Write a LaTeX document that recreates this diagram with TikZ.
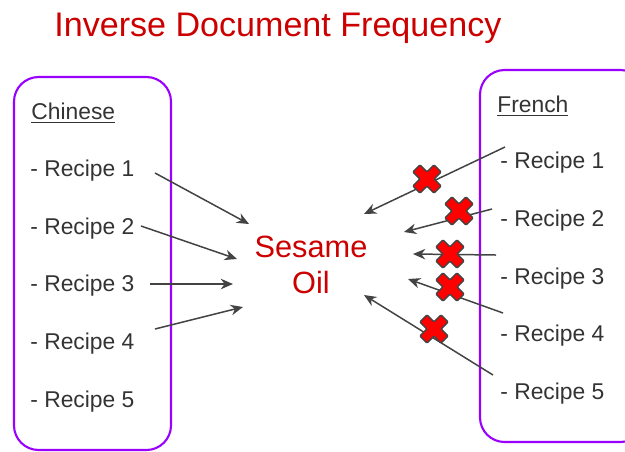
\documentclass[tikz,border=0pt]{standalone}
\usepackage{fontspec}
\setmainfont{Liberation Sans}
\usetikzlibrary{arrows.meta}

\definecolor{slidered}{HTML}{CC0000}
\definecolor{boxpurple}{HTML}{9900FF}
\definecolor{arrowgray}{HTML}{434343}

\tikzset{
  recipe/.style={anchor=west, inner sep=0pt, text=black!80, font=\fontsize{13}{15}\selectfont},
  link/.style={arrowgray, line width=0.85pt, -{Stealth[length=7pt,width=6pt]}},
  catbox/.style={draw=boxpurple, line width=1.2pt, rounded corners=14pt},
  nope/.pic={
    \filldraw[fill=red, draw=arrowgray, line width=0.8pt, rounded corners=0.6pt, rotate=45]
      (5,15) -- (5,5) -- (15,5) -- (15,-5) -- (5,-5) -- (5,-15) -- (-5,-15)
      -- (-5,-5) -- (-15,-5) -- (-15,5) -- (-5,5) -- (-5,15) -- cycle;
  }
}

\begin{document}
\begin{tikzpicture}[x=0.02cm, y=-0.02cm]
        \useasboundingbox (0,0) rectangle (625,451);

        % title
        \node[anchor=west, inner sep=0pt, text=slidered, font=\fontsize{19.4}{22}\selectfont] (title) at (54,28) {Inverse Document Frequency};

        % the two groups
        \draw[catbox] (14,77) rectangle (171,450);
        \draw[catbox] (480,70) rectangle (645,442);

        \node[recipe] (chinese) at (31,113) {\underline{Chinese}};
        \node[recipe] (c1) at (30,171) {- Recipe 1};
        \node[recipe] (c2) at (30,229) {- Recipe 2};
        \node[recipe] (c3) at (30,286) {- Recipe 3};
        \node[recipe] (c4) at (30,344) {- Recipe 4};
        \node[recipe] (c5) at (30,402) {- Recipe 5};

        \node[recipe] (french) at (497,106) {\underline{French}};
        \node[recipe] (f1) at (500,163) {- Recipe 1};
        \node[recipe] (f2) at (500,221) {- Recipe 2};
        \node[recipe] (f3) at (500,279) {- Recipe 3};
        \node[recipe] (f4) at (500,336) {- Recipe 4};
        \node[recipe] (f5) at (500,394) {- Recipe 5};

        \node[align=center, text=slidered, inner sep=0pt, font=\fontsize{17.5}{20.5}\selectfont] (oil) at (311,265) {Sesame\\Oil};

        % arrow ends
        \coordinate (c1s) at (155,173); \coordinate (c1e) at (249,224);
        \coordinate (c2s) at (141,226); \coordinate (c2e) at (237,259);
        \coordinate (c3s) at (150,284); \coordinate (c3e) at (233,284);
        \coordinate (c4s) at (155,329); \coordinate (c4e) at (243,307);

        \coordinate (f1s) at (505,147); \coordinate (f1e) at (364,214);
        \coordinate (f2s) at (492,209); \coordinate (f2e) at (404,232);
        \coordinate (f3s) at (496,255); \coordinate (f3e) at (413,254);
        \coordinate (f4s) at (503,313); \coordinate (f4e) at (408,279);
        \coordinate (f5s) at (493,375); \coordinate (f5e) at (364,295);

        \draw[link] (c1s) -- (c1e);
        \draw[link] (c2s) -- (c2e);
        \draw[link] (c3s) -- (c3e);
        \draw[link] (c4s) -- (c4e);

        \draw[link] (f1s) -- (f1e);
        \draw[link] (f2s) -- (f2e);
        \draw[link] (f3s) -- (f3e);
        \draw[link] (f4s) -- (f4e);
        \draw[link] (f5s) -- (f5e);

        % crossed out
        \pic at (427,179) {nope};
        \pic at (459,211) {nope};
        \pic at (450,254) {nope};
        \pic at (450,287) {nope};
        \pic at (434,329) {nope};
    \end{tikzpicture}
\end{document}
